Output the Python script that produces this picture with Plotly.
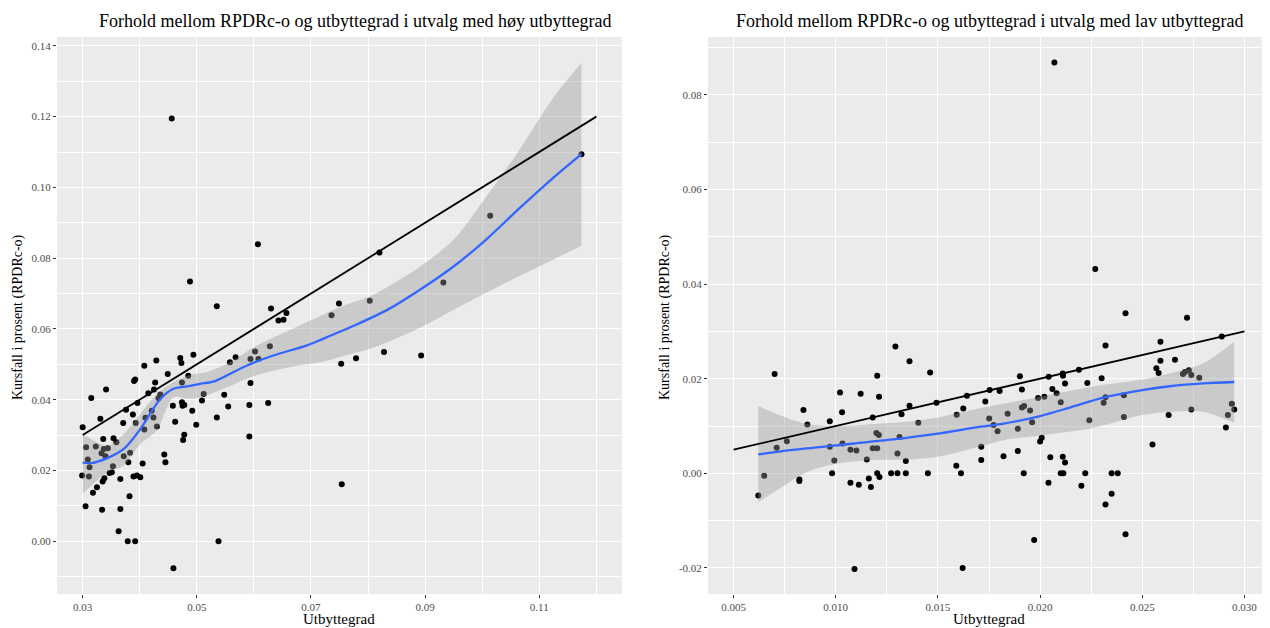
import plotly.graph_objects as go

# The page body has an 8px margin, so the figure is sized and positioned to compensate.
OX, OY = 8, 8
W, H = 1270 - OX, 628 - OY

# ---------------- Left panel data (høy utbyttegrad) ----------------
hoy_x = [0.0300, 0.0299, 0.0305, 0.0306, 0.0309, 0.0312, 0.0311, 0.0315, 0.0318, 0.0323,
         0.0325, 0.0331, 0.0333, 0.0334, 0.0335, 0.0336, 0.0337, 0.0338, 0.0340, 0.0341,
         0.0344, 0.0347, 0.0351, 0.0353, 0.0354, 0.0359, 0.0363, 0.0366, 0.0366, 0.0371,
         0.0372, 0.0376, 0.0379, 0.0380, 0.0382, 0.0383, 0.0388, 0.0389, 0.0390, 0.0392,
         0.0392, 0.0393, 0.0395, 0.0396, 0.0401, 0.0405, 0.0408, 0.0408, 0.0410, 0.0415,
         0.0421, 0.0424, 0.0425, 0.0427, 0.0429, 0.0430, 0.0433, 0.0436, 0.0443, 0.0445,
         0.0449, 0.0458, 0.0459, 0.0462, 0.0471, 0.0473, 0.0474, 0.0474, 0.0475, 0.0476,
         0.0478, 0.0478, 0.0485, 0.0492, 0.0494, 0.0499, 0.0509, 0.0512, 0.0535, 0.0535,
         0.0538, 0.0548, 0.0555, 0.0558, 0.0568, 0.0592, 0.0592, 0.0594, 0.0594, 0.0602,
         0.0608, 0.0625, 0.0628, 0.0630, 0.0643, 0.0652, 0.0657,
         0.0456, 0.0488, 0.0607, 0.0736, 0.0749, 0.0753, 0.0754, 0.0779, 0.0803, 0.0820,
         0.0828, 0.0893, 0.0932, 0.1014, 0.1174]
hoy_y = [0.0322, 0.0186, 0.0099, 0.0266, 0.0231, 0.0209, 0.0183, 0.0405, 0.0137, 0.0268,
         0.0153, 0.0346, 0.0249, 0.0089, 0.0169, 0.0289, 0.0261, 0.0178, 0.0240, 0.0429,
         0.0263, 0.0193, 0.0195, 0.0212, 0.0291, 0.0280, 0.0028, 0.0176, 0.0091, 0.0334,
         0.0240, 0.0372, 0.0000, 0.0223, 0.0127, 0.0250, 0.0358, 0.0183, 0.0453, 0.0457,
         0.0000, 0.0334, 0.0186, 0.0391, 0.0181, 0.0220, 0.0496, 0.0316, 0.0349, 0.0418,
         0.0369, 0.0350, 0.0429, 0.0449, 0.0511, 0.0324, 0.0404, 0.0415, 0.0245, 0.0223,
         0.0473, 0.0383, -0.0076, 0.0338, 0.0518, 0.0504, 0.0449, 0.0393, 0.0383, 0.0286,
         0.0301, 0.0385, 0.0468, 0.0369, 0.0527, 0.0329, 0.0398, 0.0416, 0.0664, 0.0350,
         0.0000, 0.0414, 0.0381, 0.0506, 0.0520, 0.0385, 0.0296, 0.0515, 0.0447, 0.0536,
         0.0515, 0.0391, 0.0551, 0.0658, 0.0624, 0.0626, 0.0645,
         0.1195, 0.0734, 0.0839, 0.0639, 0.0672, 0.0502, 0.0161, 0.0517, 0.0680, 0.0816,
         0.0535, 0.0525, 0.0731, 0.0920, 0.1094]

hoy_fit_x = [0.0300, 0.0315, 0.0343, 0.0372, 0.0401, 0.0418, 0.0436, 0.0459, 0.0483, 0.0506,
             0.0529, 0.0552, 0.0587, 0.0634, 0.0692, 0.0721, 0.0778, 0.0836, 0.0893, 0.0951,
             0.1008, 0.1066, 0.1123, 0.1174]
hoy_fit_y = [0.0222, 0.0221, 0.0235, 0.0261, 0.0317, 0.0360, 0.0402, 0.0431, 0.0438, 0.0445,
             0.0451, 0.0468, 0.0496, 0.0525, 0.0553, 0.0572, 0.0611, 0.0656, 0.0713, 0.0778,
             0.0854, 0.0942, 0.1025, 0.1094]

hoy_band_x = [0.0300, 0.0343, 0.0372, 0.0401, 0.0430, 0.0459, 0.0488, 0.0517, 0.0552, 0.0605,
              0.0663, 0.0721, 0.0750, 0.0807, 0.0893, 0.0951, 0.1008, 0.1066, 0.1123, 0.1174]
hoy_band_lo = [0.0134, 0.0195, 0.0214, 0.0275, 0.0313, 0.0407, 0.0402, 0.0412, 0.0435, 0.0470,
               0.0492, 0.0507, 0.0520, 0.0546, 0.0605, 0.0655, 0.0703, 0.0750, 0.0795, 0.0835]
hoy_band_hi = [0.0303, 0.0270, 0.0303, 0.0360, 0.0416, 0.0450, 0.0470, 0.0478, 0.0501, 0.0553,
               0.0597, 0.0640, 0.0661, 0.0695, 0.0778, 0.0854, 0.0976, 0.1108, 0.1250, 0.1352]

hoy_ref_x = [0.03, 0.12]
hoy_ref_y = [0.03, 0.12]

# ---------------- Right panel data (lav utbyttegrad) ----------------
lav_x = [0.00621, 0.00650, 0.00701, 0.00711, 0.00761, 0.00822, 0.00822, 0.00842, 0.00861, 0.00971,
         0.00971, 0.00982, 0.00993, 0.01021, 0.01031, 0.01033, 0.01072, 0.01072, 0.01092, 0.01101,
         0.01113, 0.01122, 0.01152, 0.01162, 0.01172, 0.01181, 0.01181, 0.01199, 0.01203, 0.01203,
         0.01203, 0.01211, 0.01212, 0.01214, 0.01271, 0.01292, 0.01302, 0.01302, 0.01312, 0.01322,
         0.01343, 0.01343, 0.01361, 0.01361, 0.01404, 0.01451, 0.01462, 0.01493, 0.01590, 0.01592,
         0.01613, 0.01621, 0.01624, 0.01642,
         0.01712, 0.01712, 0.01732, 0.01751, 0.01753, 0.01772, 0.01792, 0.01802, 0.01821, 0.01841,
         0.01891, 0.01891, 0.01901, 0.01911, 0.01911, 0.01920, 0.01922, 0.01951, 0.01961, 0.01971,
         0.01990, 0.02000, 0.02008, 0.02021, 0.02041, 0.02042, 0.02050, 0.02060, 0.02081, 0.02101,
         0.02101, 0.02111, 0.02111, 0.02112, 0.02114, 0.02122, 0.02122, 0.02190, 0.02202, 0.02221,
         0.02231, 0.02241, 0.02301, 0.02311, 0.02320, 0.02320, 0.02320, 0.02350, 0.02350, 0.02380,
         0.02410, 0.02410, 0.02418, 0.02418, 0.02550, 0.02569, 0.02580, 0.02589, 0.02589, 0.02629,
         0.02660, 0.02699, 0.02709, 0.02719, 0.02728, 0.02740, 0.02740, 0.02779, 0.02889, 0.02909,
         0.02919, 0.02938, 0.02950, 0.02070, 0.02270]
lav_y = [-0.0047, -0.0005, 0.0210, 0.0054, 0.0068, -0.0013, -0.0016, 0.0134, 0.0103, 0.0110,
         0.0056, 0.0000, 0.0027, 0.0171, 0.0129, 0.0063, -0.0020, 0.0050, -0.0202, 0.0048,
         -0.0024, 0.0168, 0.0029, -0.0011, -0.0029, 0.0118, 0.0053, 0.0085, 0.0206, 0.0053,
         0.0000, 0.0081, 0.0162, -0.0008, 0.0000, 0.0268, 0.0042, 0.0000, 0.0077, 0.0125,
         0.0026, 0.0000, 0.0237, 0.0143, 0.0107, 0.0000, 0.0213, 0.0149, 0.0016, 0.0124,
         0.0000, -0.0200, 0.0137, 0.0164,
         0.0028, 0.0056, 0.0152, 0.0116, 0.0176, 0.0102, 0.0089, 0.0174, 0.0036, 0.0126,
         0.0094, 0.0047, 0.0205, 0.0177, 0.0139, 0.0000, 0.0142, 0.0133, 0.0108, -0.0141,
         0.0159, 0.0067, 0.0075, 0.0162, -0.0020, 0.0204, 0.0034, 0.0178, 0.0169, 0.0150,
         0.0000, 0.0035, 0.0211, 0.0206, 0.0000, 0.0190, 0.0023, 0.0219, -0.0026, 0.0000,
         0.0191, 0.0112, 0.0201, 0.0149, 0.0270, 0.0161, -0.0066, 0.0000, -0.0043, 0.0000,
         0.0165, 0.0119, 0.0338, -0.0129, 0.0061, 0.0222, 0.0212, 0.0278, 0.0238, 0.0123,
         0.0240, 0.0210, 0.0214, 0.0329, 0.0218, 0.0135, 0.0208, 0.0202, 0.0289, 0.0097,
         0.0123, 0.0147, 0.0135, 0.0868, 0.0432]

lav_fit_x = [0.00621, 0.00778, 0.0100, 0.01268, 0.0150, 0.01703, 0.01821, 0.0200, 0.02146, 0.02309,
             0.0250, 0.02634, 0.02797, 0.0295]
lav_fit_y = [0.0040, 0.0049, 0.0059, 0.0071, 0.0084, 0.0098, 0.0105, 0.0121, 0.0139, 0.0160,
             0.0176, 0.0184, 0.0190, 0.0193]

lav_band_x = [0.00621, 0.0075, 0.0086, 0.0100, 0.01186, 0.0135, 0.0150, 0.0170, 0.0182, 0.0200,
              0.02252, 0.0250, 0.02634, 0.02797, 0.0295]
lav_band_lo = [-0.0061, -0.0025, 0.0003, 0.0020, 0.0028, 0.0029, 0.0035, 0.0056, 0.0070, 0.0080,
               0.0095, 0.0123, 0.0130, 0.0130, 0.0107]
lav_band_hi = [0.0142, 0.0119, 0.0104, 0.0099, 0.0104, 0.0109, 0.0118, 0.0137, 0.0147, 0.0162,
               0.0183, 0.0198, 0.0211, 0.0232, 0.0278]

lav_ref_x = [0.005, 0.030]
lav_ref_y = [0.005, 0.030]

# ---------------- Tick labels ----------------
hoy_xticks = [0.03, 0.05, 0.07, 0.09, 0.11]
hoy_xlabels = ["0.03", "0.05", "0.07", "0.09", "0.11"]
hoy_xminor = [0.04, 0.06, 0.08, 0.10, 0.12]
hoy_yticks = [0.00, 0.02, 0.04, 0.06, 0.08, 0.10, 0.12, 0.14]
hoy_ylabels = ["0.00", "0.02", "0.04", "0.06", "0.08", "0.10", "0.12", "0.14"]
hoy_yminor = [-0.01, 0.01, 0.03, 0.05, 0.07, 0.09, 0.11, 0.13]

lav_xticks = [0.005, 0.010, 0.015, 0.020, 0.025, 0.030]
lav_xlabels = ["0.005", "0.010", "0.015", "0.020", "0.025", "0.030"]
lav_xminor = [0.0075, 0.0125, 0.0175, 0.0225, 0.0275]
lav_yticks = [-0.02, 0.00, 0.02, 0.04, 0.06, 0.08]
lav_ylabels = ["-0.02", "0.00", "0.02", "0.04", "0.06", "0.08"]
lav_yminor = [-0.01, 0.01, 0.03, 0.05, 0.07, 0.09]

title_left = "Forhold mellom RPDRc-o og utbyttegrad i utvalg med høy utbyttegrad"
title_right = "Forhold mellom RPDRc-o og utbyttegrad i utvalg med lav utbyttegrad"
xlab = "Utbyttegrad"
ylab = "Kursfall i prosent (RPDRc-o)"

FONT = "Liberation Serif"
BLUE = "#3366FF"
RIBBON = "rgba(153,153,153,0.4)"


def fx_(px):
    return (px - OX) / W


def fy_(py):
    return 1 - (py - OY) / H


fig = go.Figure()


def add_panel(px, py, fx, fy, bx, blo, bhi, rx, ry, xa, ya):
    fig.add_trace(go.Scatter(x=px, y=py, mode="markers", xaxis=xa, yaxis=ya,
                             marker=dict(color="black", size=6, line=dict(width=0)),
                             showlegend=False, hoverinfo="skip"))
    fig.add_trace(go.Scatter(x=bx, y=blo, mode="lines", line=dict(width=0, shape="spline",
                             smoothing=0.8), xaxis=xa, yaxis=ya, showlegend=False,
                             hoverinfo="skip"))
    fig.add_trace(go.Scatter(x=bx, y=bhi, mode="lines", fill="tonexty", fillcolor=RIBBON,
                             line=dict(width=0, shape="spline", smoothing=0.8),
                             xaxis=xa, yaxis=ya, showlegend=False, hoverinfo="skip"))
    fig.add_trace(go.Scatter(x=fx, y=fy, mode="lines", line=dict(color=BLUE, width=2.3,
                             shape="spline", smoothing=0.8), xaxis=xa, yaxis=ya,
                             showlegend=False, hoverinfo="skip"))
    fig.add_trace(go.Scatter(x=rx, y=ry, mode="lines", line=dict(color="black", width=1.8),
                             xaxis=xa, yaxis=ya, showlegend=False, hoverinfo="skip"))


add_panel(hoy_x, hoy_y, hoy_fit_x, hoy_fit_y, hoy_band_x, hoy_band_lo, hoy_band_hi,
          hoy_ref_x, hoy_ref_y, "x", "y")
add_panel(lav_x, lav_y, lav_fit_x, lav_fit_y, lav_band_x, lav_band_lo, lav_band_hi,
          lav_ref_x, lav_ref_y, "x2", "y2")

ydom = [fy_(594), fy_(37)]
tickfont = dict(family=FONT, size=11, color="#4D4D4D")


def axis(domain, rng, tv, tt, minor, anchor):
    return dict(domain=domain, range=rng, tickvals=tv, ticktext=tt, anchor=anchor,
                showgrid=True, gridcolor="white", gridwidth=1.2, zeroline=False,
                showline=False, ticks="outside", ticklen=3, tickwidth=1, tickcolor="#333333",
                tickfont=tickfont,
                minor=dict(tickvals=minor, showgrid=True, gridcolor="white", gridwidth=0.5,
                           ticks=""))


def ann(text, px, py, size, angle=0):
    return dict(text=text, x=fx_(px), y=fy_(py), xref="paper", yref="paper", textangle=angle,
                showarrow=False, font=dict(family=FONT, size=size, color="black"),
                xanchor="center", yanchor="middle")


fig.update_layout(
    width=W, height=H,
    margin=dict(l=0, r=0, t=0, b=0),
    paper_bgcolor="white", plot_bgcolor="#EBEBEB",
    xaxis=axis([fx_(57), fx_(622)], [0.0255, 0.1245], hoy_xticks, hoy_xlabels, hoy_xminor, "y"),
    yaxis=axis(ydom, [-0.0149, 0.1425], hoy_yticks, hoy_ylabels, hoy_yminor, "x"),
    xaxis2=axis([fx_(708), 1.0], [0.00375, 0.03125], lav_xticks, lav_xlabels, lav_xminor, "y2"),
    yaxis2=axis(ydom, [-0.0255, 0.0922], lav_yticks, lav_ylabels, lav_yminor, "x2"),
    annotations=[
        ann(title_left, 354.5, 21, 18),
        ann(title_right, 989, 21, 18),
        ann(xlab, 339.5, 619, 15),
        ann(xlab, 989, 619, 15),
        ann(ylab, 18, 317, 14, -90),
        ann(ylab, 665, 317, 14, -90),
    ],
)

fig.write_html("out.html")
